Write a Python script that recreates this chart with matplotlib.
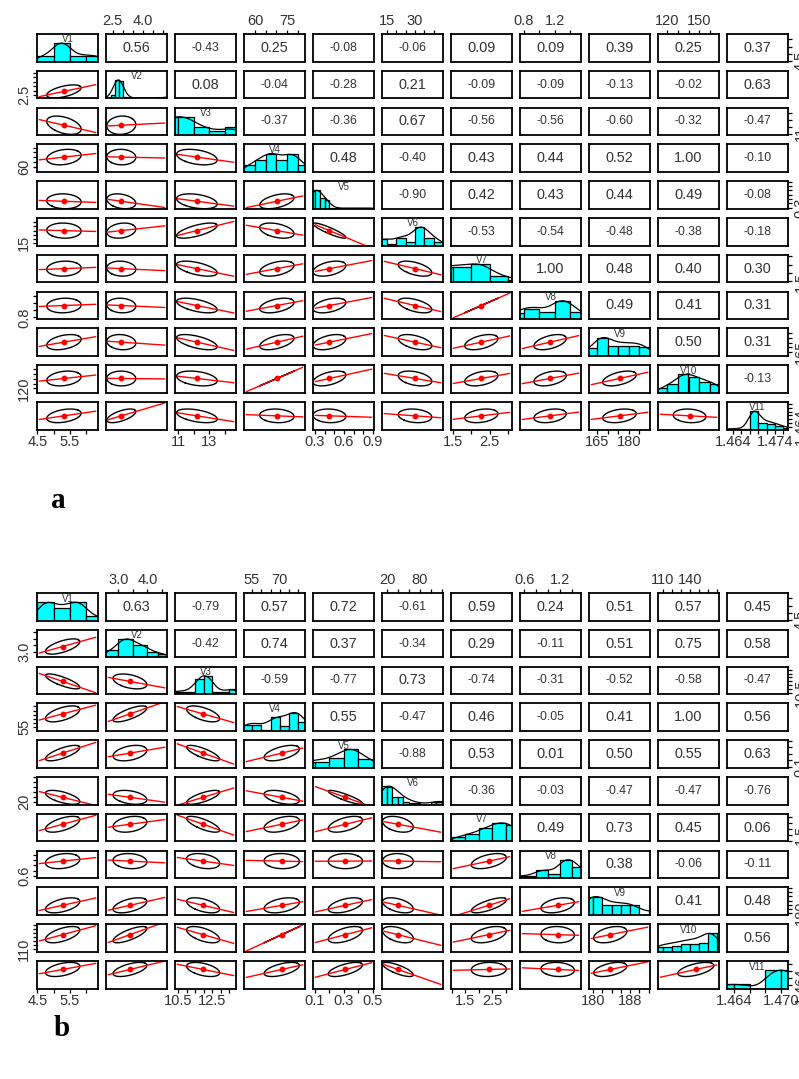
import numpy as np
import matplotlib
matplotlib.use("Agg")
import matplotlib.pyplot as plt

# 图像尺寸 (像素, dpi=100)
W, H = 799, 1079

VAR_NAMES = ["V1", "V2", "V3", "V4", "V5", "V6", "V7", "V8", "V9", "V10", "V11"]

# ---------------- panel a ----------------
# 上三角相关系数（逐行）
A_CORR = [
    [0.56, -0.43, 0.25, -0.08, -0.06, 0.09, 0.09, 0.39, 0.25, 0.37],
    [0.08, -0.04, -0.28, 0.21, -0.09, -0.09, -0.13, -0.02, 0.63],
    [-0.37, -0.36, 0.67, -0.56, -0.56, -0.60, -0.32, -0.47],
    [0.48, -0.40, 0.43, 0.44, 0.52, 1.00, -0.10],
    [-0.90, 0.42, 0.43, 0.44, 0.49, -0.08],
    [-0.53, -0.54, -0.48, -0.38, -0.18],
    [1.00, 0.48, 0.40, 0.30],
    [0.49, 0.41, 0.31],
    [0.50, 0.31],
    [-0.13],
]
A_LO = [4.49, 2.17, 10.8, 54.9, 0.28, 12.3, 1.45, 0.75, 161.0, 111.0, 1.4626]
A_HI = [6.37, 5.20, 14.7, 83.3, 0.91, 45.0, 3.10, 1.54, 190.0, 169.0, 1.4771]
A_MEAN = [5.32, 2.93, 12.2, 70.2, 0.45, 30.0, 2.27, 1.14, 175.5, 141.0, 1.4698]
A_SD = [0.53, 0.72, 1.3, 8.0, 0.17, 9.0, 0.45, 0.21, 8.0, 15.6, 0.0036]
A_TICKS = [
    [4.5, 5.0, 5.5, 6.0], [2.5, 3.0, 3.5, 4.0, 4.5, 5.0], [11, 12, 13, 14],
    [60, 65, 70, 75, 80], [0.3, 0.4, 0.5, 0.6, 0.7, 0.8, 0.9],
    [15, 20, 25, 30, 35, 40], [1.5, 2.0, 2.5, 3.0], [0.8, 1.0, 1.2, 1.4],
    [165, 170, 175, 180, 185], [120, 130, 140, 150, 160],
    [1.464, 1.466, 1.468, 1.470, 1.472, 1.474, 1.476],
]
A_TICK_LABELS = [
    ["4.5", "", "5.5", ""], ["2.5", "", "", "4.0", "", ""], ["11", "", "13", ""],
    ["60", "", "", "75", ""], ["0.3", "", "", "0.6", "", "", "0.9"],
    ["15", "", "", "30", "", ""], ["1.5", "", "2.5", ""], ["0.8", "", "1.2", ""],
    ["165", "", "", "180", ""], ["120", "", "", "150", ""],
    ["1.464", "", "", "", "", "1.474", ""],
]
A_BREAKS = [
    [4.5, 5.0, 5.5, 6.0, 6.5],
    [2.2, 2.4, 2.6, 2.8, 3.0, 3.2, 3.4, 3.6, 3.8, 4.0, 4.2, 4.4, 4.6, 4.8, 5.0, 5.2],
    [10, 11, 12, 13, 14, 15],
    [55, 60, 65, 70, 75, 80, 85],
    [0.25, 0.30, 0.35, 0.40, 0.45, 0.50, 0.55, 0.60, 0.65, 0.70, 0.75, 0.80, 0.85, 0.90],
    [10, 15, 20, 25, 30, 35, 40, 45],
    [1.0, 1.5, 2.0, 2.5, 3.0, 3.5],
    [0.6, 0.8, 1.0, 1.2, 1.4, 1.6],
    [160, 165, 170, 175, 180, 185, 190],
    [110, 120, 130, 140, 150, 160, 170],
    [1.462, 1.464, 1.466, 1.468, 1.470, 1.472, 1.474, 1.476, 1.478],
]
A_HEIGHTS = [
    [0.3, 1.0, 0.3, 0.3],
    [0.0, 0.2, 1.0, 0.95, 0.08, 0.03, 0.02, 0, 0, 0, 0, 0, 0, 0.02, 0.08],
    [1.0, 1.0, 0.42, 0.21, 0.42],
    [0.35, 0.65, 1.0, 0.65, 1.0, 0.38],
    [1.0, 1.0, 0.6, 0.45, 0.05, 0.03, 0.02, 0.02, 0.03, 0.02, 0.03, 0.04, 0.03],
    [0.38, 0.08, 0.43, 0.18, 1.0, 0.43, 0.18],
    [0.85, 0.85, 1.0, 0.37, 0.15],
    [0.35, 0.56, 0.37, 1.0, 0.37],
    [0.45, 1.0, 0.55, 0.55, 0.55, 0.5],
    [0.24, 0.5, 1.0, 0.85, 0.6, 0.5],
    [0.03, 0.03, 0.05, 1.0, 0.33, 0.3, 0.18, 0.08],
]

# ---------------- panel b ----------------
B_CORR = [
    [0.63, -0.79, 0.57, 0.72, -0.61, 0.59, 0.24, 0.51, 0.57, 0.45],
    [-0.42, 0.74, 0.37, -0.34, 0.29, -0.11, 0.51, 0.75, 0.58],
    [-0.59, -0.77, 0.73, -0.74, -0.31, -0.52, -0.58, -0.47],
    [0.55, -0.47, 0.46, -0.05, 0.41, 1.00, 0.56],
    [-0.88, 0.53, 0.01, 0.50, 0.55, 0.63],
    [-0.36, -0.03, -0.47, -0.47, -0.76],
    [0.49, 0.73, 0.45, 0.06],
    [0.38, -0.06, -0.11],
    [0.41, 0.48],
    [0.56],
]
B_LO = [4.49, 2.58, 10.32, 50.7, 0.087, 11.0, 0.98, 0.53, 179.1, 104.4, 1.4631]
B_HI = [6.37, 4.67, 13.90, 83.5, 0.507, 122.0, 3.24, 1.55, 192.3, 172.0, 1.4709]
B_MEAN = [5.28, 3.40, 11.97, 71.0, 0.31, 40.0, 2.38, 1.16, 183.7, 146.3, 1.4685]
B_SD = [0.53, 0.58, 0.97, 9.5, 0.118, 28.0, 0.65, 0.28, 3.6, 20.0, 0.002]
B_TICKS = [
    [4.5, 5.0, 5.5, 6.0], [3.0, 3.5, 4.0, 4.5],
    [10.5, 11.0, 11.5, 12.0, 12.5, 13.0, 13.5], [55, 60, 65, 70, 75, 80],
    [0.1, 0.2, 0.3, 0.4, 0.5], [20, 40, 60, 80, 100, 120],
    [1.0, 1.5, 2.0, 2.5, 3.0], [0.6, 0.8, 1.0, 1.2, 1.4],
    [180, 182, 184, 186, 188, 190, 192], [110, 120, 130, 140, 150, 160, 170],
    [1.464, 1.466, 1.468, 1.470],
]
B_TICK_LABELS = [
    ["4.5", "", "5.5", ""], ["3.0", "", "4.0", ""],
    ["10.5", "", "", "", "12.5", "", ""], ["55", "", "", "70", "", ""],
    ["0.1", "", "0.3", "", "0.5"], ["20", "", "", "80", "", ""],
    ["", "1.5", "", "2.5", ""], ["0.6", "", "", "1.2", ""],
    ["180", "", "", "", "188", "", ""], ["110", "", "", "140", "", "", ""],
    ["1.464", "", "", "1.470"],
]
B_BREAKS = [
    [4.5, 5.0, 5.5, 6.0, 6.5],
    [2.55, 3.0, 3.5, 4.0, 4.35, 4.7],
    [10.0, 10.5, 11.0, 11.5, 12.0, 12.5, 13.0, 13.5, 14.0],
    [50, 55, 60, 65, 70, 75, 80, 85],
    [0.0, 0.1, 0.2, 0.3, 0.4, 0.5, 0.6],
    [10, 20, 30, 40, 50, 60, 70, 80, 90, 100, 110, 120, 130],
    [1.0, 1.5, 2.0, 2.5, 3.0, 3.5],
    [0.4, 0.6, 0.8, 1.0, 1.2, 1.4, 1.6],
    [178, 180, 182, 184, 186, 188, 190, 192, 194],
    [100, 110, 120, 130, 140, 150, 160, 170],
    [1.462, 1.464, 1.466, 1.468, 1.470, 1.472],
]
B_HEIGHTS = [
    [1.0, 0.7, 1.0, 0.22],
    [0.38, 1.0, 0.65, 0.28, 0.18],
    [0.13, 0.13, 0.13, 0.8, 1.0, 0.1, 0.13, 0.28],
    [0.33, 0.33, 0.05, 0.78, 0.25, 1.0, 0.5],
    [0.33, 0.33, 0.55, 1.0, 0.45, 0.13],
    [1.0, 0.95, 0.4, 0.4, 0.16, 0.1, 0.1, 0.0, 0.0, 0.14, 0.14, 0.14],
    [0.24, 0.4, 0.7, 1.0, 0.9],
    [0.1, 0.1, 0.42, 0.24, 1.0, 0.6],
    [1.0, 1.0, 0.55, 0.55, 0.55, 0.55, 0.0, 0.3],
    [0.25, 0.25, 0.3, 0.4, 0.4, 0.45, 1.0],
    [0.22, 0.22, 0.0, 1.0, 1.0],
]

# 版面（像素）
COL_LEFT0, COL_PITCH, CELL_W = 37, 69, 61
ROW_PITCH, CELL_H = 36.8, 27.5
TOP_A, TOP_B = 34, 593

HIST_COL = "#00FFFF"
TXT_COL = "#333333"
FONT = ["Liberation Sans", "DejaVu Sans"]


def full_corr(rows):
    n = len(rows) + 1
    m = np.eye(n)
    for i, row in enumerate(rows):
        for k, r in enumerate(row):
            m[i, i + 1 + k] = r
            m[i + 1 + k, i] = r
    return m


def hist_density(breaks, heights, grid):
    edges = np.asarray(breaks, float)
    h = np.asarray(heights, float)
    pts, wts = [], []
    for a, b, hh in zip(edges[:-1], edges[1:], h):
        p = a + (np.arange(10) + 0.5) / 10 * (b - a)
        pts.append(p)
        wts.append(np.full(10, hh * (b - a) / 10))
    pts = np.concatenate(pts)
    wts = np.concatenate(wts)
    mu = np.sum(pts * wts) / wts.sum()
    sd = np.sqrt(np.sum(wts * (pts - mu) ** 2) / wts.sum())
    bw = 0.42 * sd
    d = np.sum(wts[None, :] * np.exp(-0.5 * ((grid[:, None] - pts[None, :]) / bw) ** 2), axis=1)
    return d / d.max()


def cell_rect(top0, i, j):
    x = COL_LEFT0 + j * COL_PITCH
    y = top0 + i * ROW_PITCH
    return [x / W, 1 - (y + CELL_H) / H, CELL_W / W, CELL_H / H]


def draw_matrix(fig, renderer, top0, corr_rows, lo, hi, means, sds, ticks, tick_labels,
                breaks, heights):
    n = len(lo)
    corr = full_corr(corr_rows)
    angles = np.linspace(0, 2 * np.pi, 61)
    circle = np.column_stack([np.cos(angles), np.sin(angles)])

    for i in range(n):
        for j in range(n):
            ax = fig.add_axes(cell_rect(top0, i, j))
            ax.set_xlim(lo[j], hi[j])
            ax.set_ylim(lo[i], hi[i])
            for sp in ax.spines.values():
                sp.set_linewidth(1.3)
            ax.tick_params(length=2.6, width=0.9, pad=1.5, labelsize=10.5,
                           labelcolor=TXT_COL, top=False, bottom=False, left=False,
                           right=False, labeltop=False, labelbottom=False,
                           labelleft=False, labelright=False)
            ax.set_xticks([])
            ax.set_yticks([])

            # 外侧坐标轴，R pairs 交替上/下、左/右
            if i == 0 and j % 2 == 1:
                ax.set_xticks(ticks[j], tick_labels[j], fontfamily=FONT)
                ax.tick_params(top=True, labeltop=True)
            if i == n - 1 and j % 2 == 0:
                ax.set_xticks(ticks[j], tick_labels[j], fontfamily=FONT)
                ax.tick_params(bottom=True, labelbottom=True)
            first_idx = next(q for q, s in enumerate(tick_labels[i]) if s)
            first = [lab if k == first_idx else "" for k, lab in enumerate(tick_labels[i])]
            if j == 0 and i % 2 == 1:
                ax.set_yticks(ticks[i], first, fontfamily=FONT, rotation=90, va="center")
                ax.tick_params(left=True, labelleft=True)
            if j == n - 1 and i % 2 == 0:
                ax.set_yticks(ticks[i], first, fontfamily=FONT, rotation=90, va="center")
                ax.tick_params(right=True, labelright=True)

            if i == j:
                span = hi[i] - lo[i]
                e = np.asarray(breaks[i], float)
                hh = np.asarray(heights[i], float)
                ax.bar(e[:-1], hh / 1.5 * span, width=np.diff(e), bottom=lo[i],
                       align="edge", color=HIST_COL, edgecolor="black", linewidth=0.9)
                grid = np.linspace(lo[i], hi[i], 200)
                dens = hist_density(breaks[i], heights[i], grid)
                ax.plot(grid, lo[i] + dens / 1.5 * span, color="black", lw=0.9)
                ax.text(0.5, 0.8, VAR_NAMES[i], transform=ax.transAxes, ha="center",
                        va="center", fontsize=7, color=TXT_COL, fontfamily=FONT)
            elif i < j:
                t = ax.text(0.5, 0.5, f"{corr[i, j]:.2f}", transform=ax.transAxes,
                            ha="center", va="center", fontsize=10, color=TXT_COL,
                            fontfamily=FONT)
                w = t.get_window_extent(renderer).width
                t.set_fontsize(10 * 28 / w)
            else:
                r = corr[i, j]
                mx, my, sx, sy = means[j], means[i], sds[j], sds[i]
                th = np.sign(r) / np.sqrt(2) if abs(r) > 0 else 1 / np.sqrt(2)
                shape = np.diag([np.sqrt(1 + r), np.sqrt(max(1 - r, 0))]) @ \
                    np.array([[th, th], [-th, th]])
                ell = circle @ shape
                ax.plot(ell[:, 0] * sx + mx, ell[:, 1] * sy + my, color="black", lw=1.0)
                span = hi[j] - lo[j]
                xs = np.array([lo[j] + 0.04 * span, hi[j] - 0.04 * span])
                ax.plot(xs, my + r * sy / sx * (xs - mx), color="red", lw=1.0)
                ax.plot([mx], [my], "o", color="red", ms=3.2, mec="red")


fig = plt.figure(figsize=(W / 100, H / 100), dpi=100)
renderer = fig.canvas.get_renderer()

draw_matrix(fig, renderer, TOP_A, A_CORR, A_LO, A_HI, A_MEAN, A_SD, A_TICKS,
            A_TICK_LABELS, A_BREAKS, A_HEIGHTS)
draw_matrix(fig, renderer, TOP_B, B_CORR, B_LO, B_HI, B_MEAN, B_SD, B_TICKS,
            B_TICK_LABELS, B_BREAKS, B_HEIGHTS)

fig.text(58 / W, 1 - 501 / H, "a", fontsize=21, fontweight="bold",
         fontfamily="Liberation Serif", ha="center", va="center")
fig.text(62 / W, 1 - 1028 / H, "b", fontsize=21, fontweight="bold",
         fontfamily="Liberation Serif", ha="center", va="center")

fig.savefig("out.png", dpi=100)
